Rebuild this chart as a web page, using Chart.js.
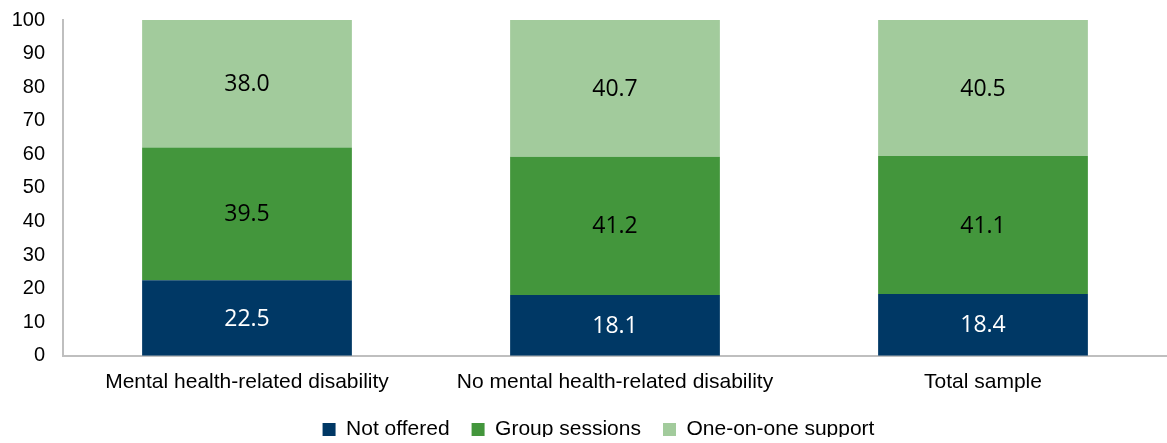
<!DOCTYPE html>
<html>
<head>
<meta charset="utf-8">
<script src="https://cdn.jsdelivr.net/npm/chart.js@4"></script>
<style>
  html, body { margin: 0; padding: 0; background: #fff; }
  #wrap { width: 1167px; height: 443px; position: relative; }
</style>
</head>
<body>
<div id="wrap"><canvas id="c"></canvas></div>
<script>
const categories = ['Mental health-related disability', 'No mental health-related disability', 'Total sample'];
const notOffered = [22.5, 18.1, 18.4];
const groupSessions = [39.5, 41.2, 41.1];
const oneOnOne = [38.0, 40.7, 40.5];
const yTicks = [0, 10, 20, 30, 40, 50, 60, 70, 80, 90, 100];

// draws the value in the middle of each bar segment
const barLabels = {
  id: 'barLabels',
  afterDatasetsDraw(chart) {
    const ctx = chart.ctx;
    ctx.save();
    ctx.font = '23px "Open Sans", sans-serif';
    ctx.textAlign = 'center';
    ctx.textBaseline = 'middle';
    chart.data.datasets.forEach((ds, i) => {
      chart.getDatasetMeta(i).data.forEach((bar, j) => {
        const mid = (bar.y + bar.base) / 2;
        ctx.fillStyle = ds.labelColor;
        ctx.fillText(ds.data[j].toFixed(1), bar.x, mid + 1);
      });
    });
    ctx.restore();
  }
};

// nudge the legend: it sits under the plot area rather than the canvas, and a bit higher
const legendShift = {
  id: 'legendShift',
  afterLayout(chart) {
    chart.legend.left += 15;
    chart.legend.right += 15;
    chart.legend.top -= 12;
    chart.legend.bottom -= 12;
  }
};

new Chart(document.getElementById('c'), {
  type: 'bar',
  data: {
    labels: categories,
    datasets: [
      { label: 'Not offered', data: notOffered, backgroundColor: '#003865', labelColor: '#ffffff' },
      { label: 'Group sessions', data: groupSessions, backgroundColor: '#43963c', labelColor: '#000000' },
      { label: 'One-on-one support', data: oneOnOne, backgroundColor: '#a2cb9c', labelColor: '#000000' }
    ]
  },
  options: {
    responsive: true,
    maintainAspectRatio: false,
    animation: false,
    layout: { padding: { top: 20, right: 0, left: 0, bottom: -6 } },
    datasets: { bar: { barPercentage: 0.57, categoryPercentage: 1.0 } },
    plugins: {
      legend: {
        position: 'bottom',
        maxHeight: 40,
        labels: {
          color: '#000',
          font: { family: 'Liberation Sans, Arial', size: 21 },
          boxWidth: 13,
          boxHeight: 13,
          padding: 22
        }
      },
      tooltip: { enabled: false }
    },
    scales: {
      x: {
        stacked: true,
        grid: { display: false, drawTicks: false },
        border: { color: '#bfbfbf', width: 2 },
        ticks: { color: '#000', font: { family: 'Liberation Sans, Arial', size: 21 }, padding: 14 }
      },
      y: {
        stacked: true,
        min: 0,
        max: 100,
        afterBuildTicks: (axis) => { axis.ticks = yTicks.map(v => ({ value: v })); },
        afterFit: (axis) => {
          axis.width = 63;
          axis.paddingTop = 0;
          axis.paddingBottom = 0;
        },
        grid: { display: false, drawTicks: false },
        border: { color: '#bfbfbf', width: 2 },
        ticks: { color: '#000', font: { family: 'Liberation Sans, Arial', size: 20 }, padding: 18 }
      }
    }
  },
  plugins: [barLabels, legendShift]
});
</script>
</body>
</html>
